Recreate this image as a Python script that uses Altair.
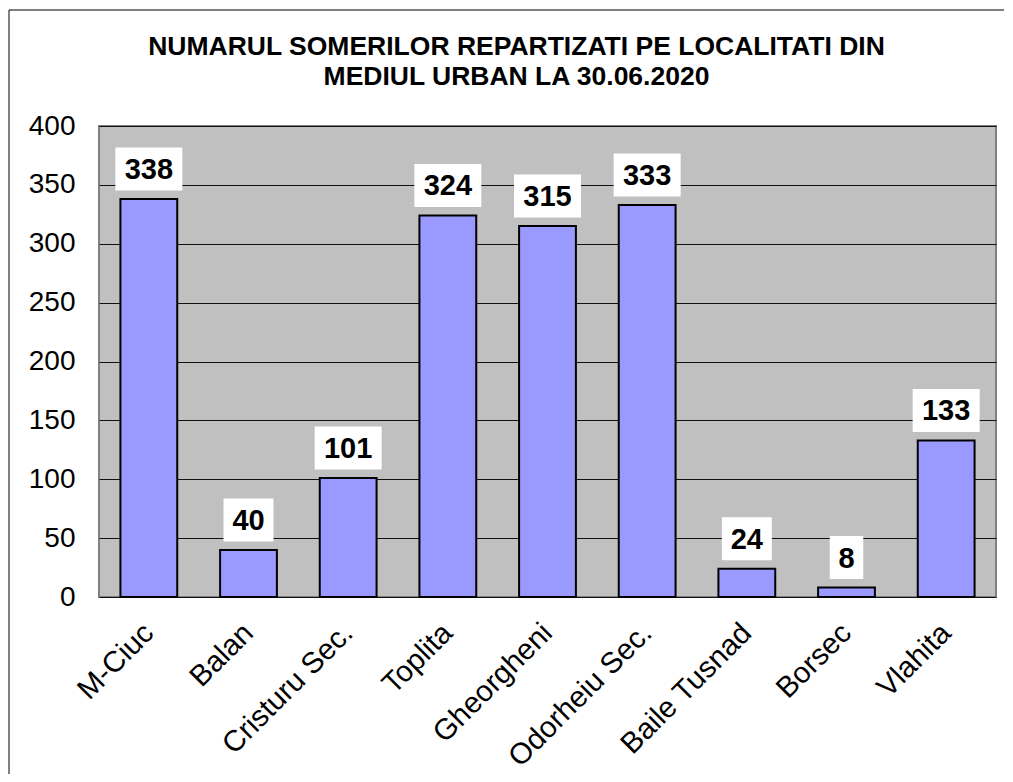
import altair as alt
import pandas as pd

categories = ["M-Ciuc", "Balan", "Cristuru Sec.", "Toplita", "Gheorgheni",
              "Odorheiu Sec.", "Baile Tusnad", "Borsec", "Vlahita"]
values = [338, 40, 101, 324, 315, 333, 24, 8, 133]
y_ticks = [0, 50, 100, 150, 200, 250, 300, 350, 400]
title_lines = ["NUMARUL SOMERILOR REPARTIZATI PE LOCALITATI DIN",
               "MEDIUL URBAN LA 30.06.2020"]

df = pd.DataFrame({"cat": categories, "val": values})
df["digits"] = df["val"].astype(str).str.len()

FONT = "Arial, Liberation Sans, sans-serif"

x_enc = alt.X("cat:N", sort=categories,
              scale=alt.Scale(paddingInner=0.43, paddingOuter=0.215),
              axis=alt.Axis(title=None, labelAngle=-45, labelFontSize=29.5,
                            labelFont=FONT, labelColor="black", ticks=False,
                            domain=False, labelPadding=31, labelAlign="right",
                            labelBaseline="middle", labelLimit=500,
                            labelOverlap=False))
y_enc = alt.Y("val:Q", scale=alt.Scale(domain=[0, 400], nice=False),
              axis=alt.Axis(title=None, values=y_ticks, labelFontSize=28,
                            labelFont=FONT, labelColor="black", ticks=False,
                            domain=False, labelPadding=24, grid=True,
                            gridColor="#111111", gridWidth=1,
                            minExtent=80, maxExtent=80))

base = alt.Chart(df)

bars = base.mark_bar(fill="#9999FF", stroke="black", strokeWidth=2).encode(
    x=x_enc, y=y_enc)

box_paths = {
    1: "M-0.5,-0.642L0.5,-0.642L0.5,0.642L-0.5,0.642Z",
    2: "M-0.746,-0.642L0.746,-0.642L0.746,0.642L-0.746,0.642Z",
    3: "M-1,-0.642L1,-0.642L1,0.642L-1,0.642Z",
}

boxes = base.mark_point(filled=True, fill="white", opacity=1, strokeWidth=0,
                        size=4489, yOffset=-30).encode(
    x=alt.X("cat:N", sort=categories),
    y=alt.Y("val:Q"),
    shape=alt.Shape("digits:O", scale=alt.Scale(domain=[1, 2, 3],
                    range=[box_paths[1], box_paths[2], box_paths[3]]),
                    legend=None),
)

labels = base.mark_text(font=FONT, fontSize=29, fontWeight="bold",
                        color="black", baseline="middle", yOffset=-29).encode(
    x=alt.X("cat:N", sort=categories),
    y=alt.Y("val:Q"),
    text=alt.Text("val:Q"),
)

frame_df = alt.Data(values=[{"k": 1}])
frame_top = alt.Chart(frame_df).mark_rule(color="black", strokeWidth=1).encode(
    x=alt.value(-90), x2=alt.value(905), y=alt.value(-116), y2=alt.value(-116))
frame_left = alt.Chart(frame_df).mark_rule(color="black", strokeWidth=1).encode(
    x=alt.value(-90), x2=alt.value(-90), y=alt.value(-116), y2=alt.value(648))

chart = alt.layer(frame_top, frame_left, bars, boxes, labels).properties(
    width=897, height=471,
    background="white",
    padding={"left": 0, "top": 1, "right": 0, "bottom": 0},
    title=alt.TitleParams(title_lines, font=FONT, fontSize=26.5,
                          fontWeight="bold", color="black", lineHeight=30,
                          anchor="middle", frame="group", dx=-31, offset=-81),
).configure_view(fill="#C0C0C0", stroke="#808080", strokeWidth=2)

chart.save("out.html", embed_options={"renderer": "svg", "actions": False})
